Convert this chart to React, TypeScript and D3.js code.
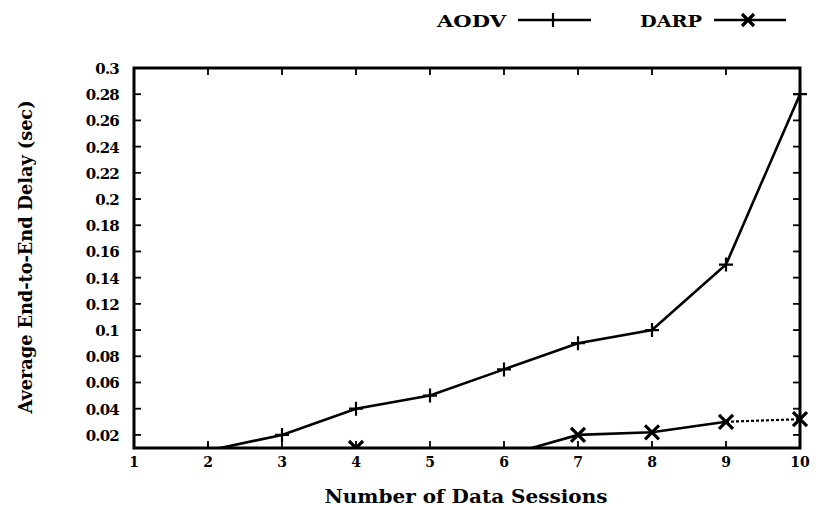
import React, { useRef, useEffect } from 'react';
import * as d3 from 'd3';

const sessions = [1, 2, 3, 4, 5, 6, 7, 8, 9, 10];
const aodvDelay = [0.005, 0.008, 0.02, 0.04, 0.05, 0.07, 0.09, 0.1, 0.15, 0.28];
const darpDelay = [0.003, 0.003, 0.003, 0.01, 0.003, 0.004, 0.02, 0.022, 0.03, 0.032];
const yTicks = [0.02, 0.04, 0.06, 0.08, 0.1, 0.12, 0.14, 0.16, 0.18, 0.2, 0.22, 0.24, 0.26, 0.28, 0.3];

const font = '"DejaVu Serif", serif';

const App = () => {
  const ref = useRef<SVGSVGElement>(null);

  useEffect(() => {
    const svg = d3.select(ref.current);
    svg.selectAll('*').remove();

    const left = 134, right = 800, top = 68, bottom = 448;
    const x = d3.scaleLinear().domain([1, 10]).range([left, right]);
    const y = d3.scaleLinear().domain([0.01, 0.3]).range([bottom, top]);

    svg.append('defs').append('clipPath').attr('id', 'plotclip')
      .append('rect').attr('x', left).attr('y', top - 10)
      .attr('width', right - left + 10).attr('height', bottom - top + 10);

    // ticks inside the frame
    const g = svg.append('g');
    sessions.forEach((s) => {
      g.append('line').attr('x1', x(s)).attr('x2', x(s)).attr('y1', bottom).attr('y2', bottom - 7)
        .attr('stroke', '#000').attr('stroke-width', 1.8);
      g.append('line').attr('x1', x(s)).attr('x2', x(s)).attr('y1', top).attr('y2', top + 7)
        .attr('stroke', '#000').attr('stroke-width', 1.8);
      g.append('text').attr('x', x(s)).attr('y', bottom + 19).attr('text-anchor', 'middle')
        .attr('font-family', font).attr('font-weight', 'bold').attr('font-size', 14).text(String(s));
    });
    yTicks.forEach((t) => {
      g.append('line').attr('x1', left).attr('x2', left + 7).attr('y1', y(t)).attr('y2', y(t))
        .attr('stroke', '#000').attr('stroke-width', 1.8);
      g.append('line').attr('x1', right).attr('x2', right - 7).attr('y1', y(t)).attr('y2', y(t))
        .attr('stroke', '#000').attr('stroke-width', 1.8);
      g.append('text').attr('x', left - 15).attr('y', y(t) + 6).attr('text-anchor', 'end')
        .attr('font-family', font).attr('font-weight', 'bold').attr('font-size', 15)
        .attr('letter-spacing', -0.8).text(String(+t.toFixed(2)));
    });

    const line = d3.line<number>().x((_, i) => x(sessions[i])).y((d) => y(d));
    const plot = svg.append('g').attr('clip-path', 'url(#plotclip)');

    plot.append('path').datum(aodvDelay).attr('d', line).attr('fill', 'none')
      .attr('stroke', '#000').attr('stroke-width', 2.6);
    plot.append('path').datum(darpDelay.slice(0, 9)).attr('d', line).attr('fill', 'none')
      .attr('stroke', '#000').attr('stroke-width', 2.6);
    plot.append('line').attr('x1', x(9)).attr('y1', y(darpDelay[8])).attr('x2', x(10)).attr('y2', y(darpDelay[9]))
      .attr('stroke', '#000').attr('stroke-width', 2.2).attr('stroke-dasharray', '3,2');

    const plus = (sel: any, cx: number, cy: number, r: number) => {
      sel.append('path').attr('d', `M${cx - r},${cy}H${cx + r}M${cx},${cy - r}V${cy + r}`)
        .attr('stroke', '#000').attr('stroke-width', 2.2).attr('fill', 'none');
    };
    const cross = (sel: any, cx: number, cy: number, r: number) => {
      sel.append('path').attr('d', `M${cx - r},${cy - r}L${cx + r},${cy + r}M${cx - r},${cy + r}L${cx + r},${cy - r}`)
        .attr('stroke', '#000').attr('stroke-width', 3.2).attr('fill', 'none');
    };
    aodvDelay.forEach((d, i) => plus(plot, x(sessions[i]), y(d), 7));
    darpDelay.forEach((d, i) => cross(plot, x(sessions[i]), y(d), 7));

    // frame
    svg.append('rect').attr('x', left).attr('y', top).attr('width', right - left).attr('height', bottom - top)
      .attr('fill', 'none').attr('stroke', '#000').attr('stroke-width', 3);

    // axis titles
    svg.append('text').attr('x', 466).attr('y', 503).attr('text-anchor', 'middle')
      .attr('font-family', font).attr('font-weight', 'bold').attr('font-size', 19)
      .attr('textLength', 283).attr('lengthAdjust', 'spacingAndGlyphs').text('Number of Data Sessions');
    svg.append('text').attr('transform', 'translate(32,257) rotate(-90)').attr('text-anchor', 'middle')
      .attr('font-family', font).attr('font-weight', 'bold').attr('font-size', 18)
      .attr('textLength', 313).attr('lengthAdjust', 'spacingAndGlyphs').text('Average End-to-End Delay (sec)');

    // legend
    const lg = svg.append('g');
    lg.append('text').attr('x', 437).attr('y', 27)
      .attr('font-family', font).attr('font-weight', 'bold').attr('font-size', 17)
      .attr('textLength', 69).attr('lengthAdjust', 'spacingAndGlyphs').text('AODV');
    lg.append('line').attr('x1', 518).attr('x2', 591).attr('y1', 20).attr('y2', 20).attr('stroke', '#000').attr('stroke-width', 2.6);
    plus(lg, 553, 20, 7);
    lg.append('text').attr('x', 640).attr('y', 27)
      .attr('font-family', font).attr('font-weight', 'bold').attr('font-size', 17)
      .attr('textLength', 62).attr('lengthAdjust', 'spacingAndGlyphs').text('DARP');
    lg.append('line').attr('x1', 714).attr('x2', 786).attr('y1', 20).attr('y2', 20).attr('stroke', '#000').attr('stroke-width', 2.6);
    cross(lg, 748, 20, 6);
  }, []);

  return (
    <svg ref={ref} width={816} height={510}
      style={{ position: 'absolute', left: 0, top: 0, background: '#fff' }} />
  );
};

export default App;
